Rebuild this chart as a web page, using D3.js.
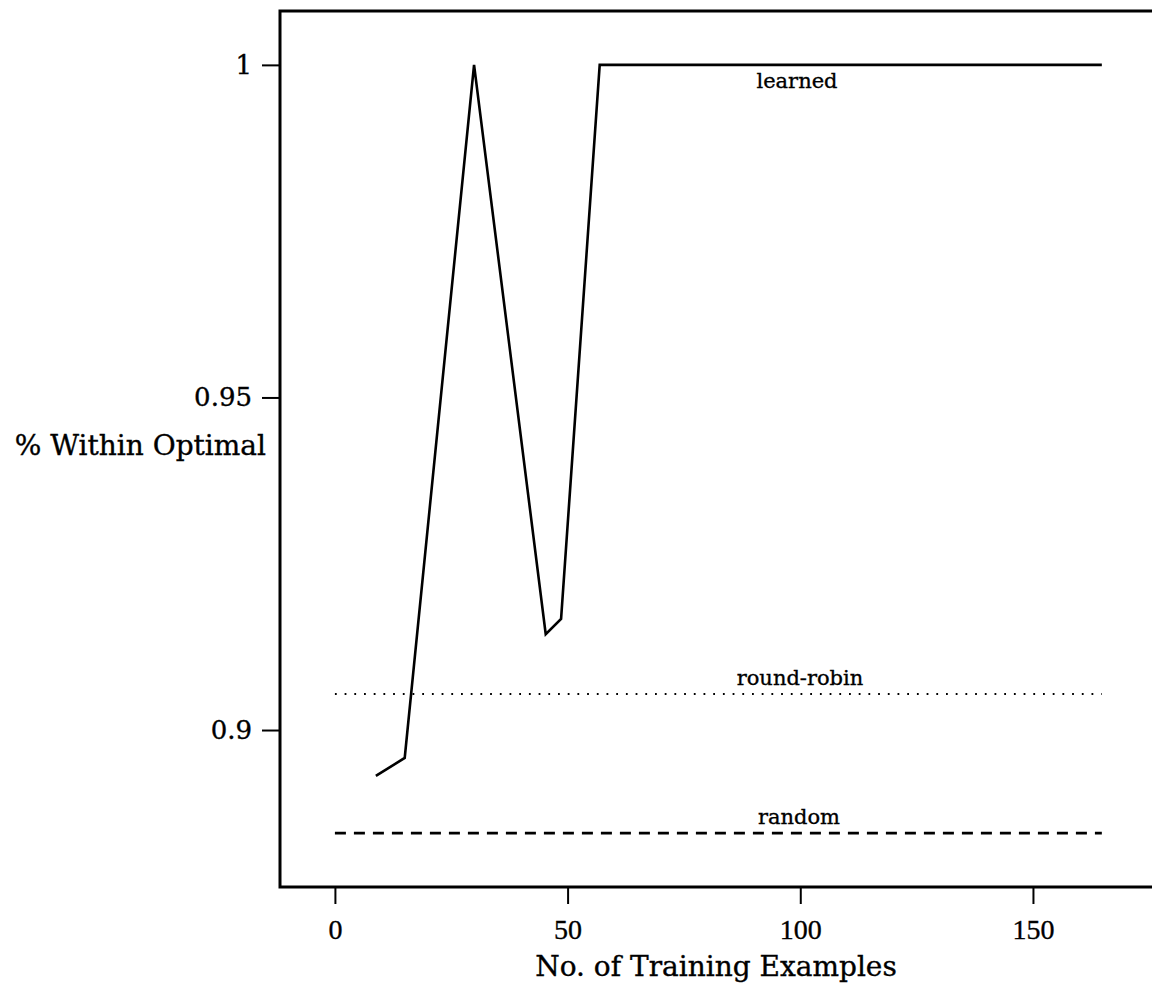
<!DOCTYPE html>
<html>
<head>
<meta charset="utf-8">
<script src="https://cdn.jsdelivr.net/npm/d3@7"></script>
<style>
  body { margin: 0; background: #fff; }
  svg { display: block; }
  text { fill: #000; stroke: #000; stroke-width: 0.35px; }
</style>
</head>
<body>
<div class="chart"></div>
<script>
// data
var learnedX = [8.8, 15.0, 29.9, 45.3, 48.6, 56.9, 164.8];
var learnedY = [0.8931, 0.8958, 1.0, 0.9144, 0.9167, 1.0, 1.0];
var baselineX = [0, 164.8];
var roundRobinY = [0.9054, 0.9054];
var randomY = [0.8845, 0.8845];
var xTicks = [0, 50, 100, 150];
var yTicks = [0.9, 0.95, 1];

var width = 1152, height = 988;

var svg = d3.select(".chart").append("svg")
  .attr("width", width)
  .attr("height", height);

// plot frame: left 280, top 11, bottom 887, right runs off the page
var x = d3.scaleLinear().domain([-11.8, 177.3]).range([280, 1160]);
var y = d3.scaleLinear().domain([0.8764, 1.0081]).range([887, 11]);

svg.append("rect")
  .attr("x", x.range()[0]).attr("y", y.range()[1])
  .attr("width", x.range()[1] - x.range()[0])
  .attr("height", y.range()[0] - y.range()[1])
  .attr("fill", "none").attr("stroke", "#000").attr("stroke-width", 3);

//x axis
var xAxis = svg.append("g")
  .attr("transform", "translate(0," + y.range()[0] + ")")
  .call(d3.axisBottom(x).tickValues(xTicks).tickSize(17).tickPadding(15).tickFormat(d3.format("d")));
xAxis.select(".domain").remove();
xAxis.selectAll("line").attr("stroke-width", 2);
xAxis.selectAll("text")
  .attr("font-family", "'Liberation Serif', serif")
  .attr("font-size", 28);

//y axis
var yAxis = svg.append("g")
  .attr("transform", "translate(" + x.range()[0] + ",0)")
  .call(d3.axisLeft(y).tickValues(yTicks).tickSize(18).tickPadding(10).tickFormat(function(d) { return d == 1 ? "1" : d3.format("")(d); }));
yAxis.select(".domain").remove();
yAxis.selectAll("line").attr("stroke-width", 2);
yAxis.selectAll("text")
  .attr("font-family", "'DejaVu Serif', serif")
  .attr("font-size", 26);

//axis titles
svg.append("text")
  .attr("x", 716).attr("y", 976)
  .attr("text-anchor", "middle")
  .attr("font-family", "'DejaVu Serif', serif")
  .attr("font-size", 28)
  .text("No. of Training Examples");

svg.append("text")
  .attr("x", 266).attr("y", 455)
  .attr("text-anchor", "end")
  .attr("font-family", "'DejaVu Serif', serif")
  .attr("font-size", 28)
  .text("% Within Optimal");

var line = d3.line()
  .x(function(d) { return x(d[0]); })
  .y(function(d) { return y(d[1]); });

// learned
svg.append("path")
  .datum(d3.zip(learnedX, learnedY))
  .attr("d", line)
  .attr("fill", "none").attr("stroke", "#000").attr("stroke-width", 2.6)
  .attr("stroke-linejoin", "miter");

// round-robin (dotted)
svg.append("path")
  .datum(d3.zip(baselineX, roundRobinY))
  .attr("d", line)
  .attr("fill", "none").attr("stroke", "#000").attr("stroke-width", 2)
  .attr("stroke-dasharray", "1.8,7.9");

// random (dashed)
svg.append("path")
  .datum(d3.zip(baselineX, randomY))
  .attr("d", line)
  .attr("fill", "none").attr("stroke", "#000").attr("stroke-width", 2.8)
  .attr("stroke-dasharray", "11,8");

// line labels
var labels = [
  {text: "learned", x: 797, y: 88},
  {text: "round-robin", x: 800, y: 685},
  {text: "random", x: 799, y: 824}
];
svg.selectAll(".lbl").data(labels).enter().append("text")
  .attr("class", "lbl")
  .attr("x", function(d) { return d.x; })
  .attr("y", function(d) { return d.y; })
  .attr("text-anchor", "middle")
  .attr("font-family", "'DejaVu Serif', serif")
  .attr("font-size", 21)
  .text(function(d) { return d.text; });
</script>
</body>
</html>
